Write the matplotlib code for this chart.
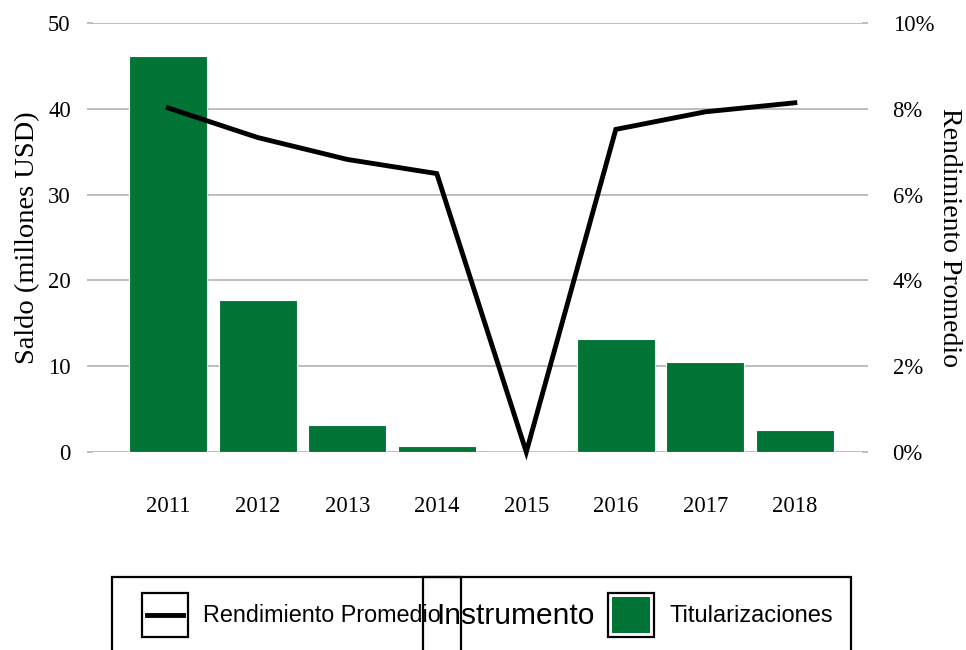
import matplotlib
matplotlib.use("Agg")
import matplotlib.pyplot as plt
from matplotlib.patches import Rectangle
from matplotlib.lines import Line2D
from matplotlib.ticker import FuncFormatter

# Data
years = ["2011", "2012", "2013", "2014", "2015", "2016", "2017", "2018"]
saldo = [46.1, 17.7, 3.1, 0.7, 0.0, 13.2, 10.5, 2.6]            # millones USD
rendimiento = [8.02, 7.33, 6.82, 6.49, 0.0, 7.52, 7.93, 8.14]    # %
left_ticks = [0, 10, 20, 30, 40, 50]
right_ticks = [0, 2, 4, 6, 8, 10]

GREEN = "#027436"
GRID = "#BEBEBE"
SERIF = "Liberation Serif"
SANS = "Liberation Sans"

W, H = 966, 650
fig = plt.figure(figsize=(W / 100, H / 100), dpi=100)


def px(x0, y0, x1, y1):
    """Pixel box (top-left origin) to figure fraction [l, b, w, h]."""
    return [x0 / W, 1 - y1 / H, (x1 - x0) / W, (y1 - y0) / H]


ax = fig.add_axes(px(93, 23, 862, 452))
xs = list(range(len(years)))

# Gridlines drawn by hand so they sit behind the bars.
for t in left_ticks:
    ax.axhline(t, color=GRID, lw=1.4, zorder=0)

ax.bar(xs, saldo, width=0.87, color=GREEN, edgecolor="white", linewidth=0.8, zorder=2)
ax.set_xlim(-0.84, 7.75)
ax.set_ylim(0, 50)
ax.set_yticks(left_ticks)
ax.set_xticks(xs)
ax.set_xticklabels(years)
for s in ax.spines.values():
    s.set_visible(False)
ax.tick_params(axis="both", length=0, labelsize=16.3)
ax.tick_params(axis="y", length=4, color=GRID, width=1.4)
ax.tick_params(axis="x", pad=32)
ax.tick_params(axis="y", pad=12)
for lab in ax.get_xticklabels() + ax.get_yticklabels():
    lab.set_fontfamily(SERIF)
ax.set_ylabel("Saldo (millones USD)", fontsize=20.5, family=SERIF, labelpad=6)

# Secondary axis for the yield line.
ax2 = ax.twinx()
ax2.set_ylim(0, 10)
ax2.set_yticks(right_ticks)
ax2.yaxis.set_major_formatter(FuncFormatter(lambda v, _: f"{v:.0f}%"))
ax2.plot(xs, rendimiento, color="black", lw=3.5, solid_joinstyle="miter",
         clip_on=False, zorder=3)
for s in ax2.spines.values():
    s.set_visible(False)
ax2.tick_params(axis="y", length=4, color=GRID, width=1.4, labelsize=16.3, pad=18)
for lab in ax2.get_yticklabels():
    lab.set_fontfamily(SERIF)
ax2.set_ylabel("Rendimiento Promedio", fontsize=20, family=SERIF,
               rotation=270, labelpad=20)

# Bottom legend, reproduced with its overlapping title.
tf = fig.transFigure
fig.add_artist(Rectangle((112 / W, -0.05), (851 - 112) / W, 1 - 577 / H + 0.05,
                         transform=tf, fill=False, ec="black", lw=1.6))
fig.add_artist(Rectangle((423 / W, -0.05), (461 - 423) / W, 1 - 577 / H + 0.05,
                         transform=tf, fill=False, ec="black", lw=1.6))
kb = px(142, 593, 188, 637)
fig.add_artist(Rectangle((kb[0], kb[1]), kb[2], kb[3], transform=tf,
                         fill=False, ec="black", lw=1.6))
fig.add_artist(Line2D([147 / W, 183 / W], [1 - 615 / H] * 2, transform=tf,
                      color="black", lw=3.5))
kg = px(608, 593, 654, 637)
fig.add_artist(Rectangle((kg[0], kg[1]), kg[2], kg[3], transform=tf,
                         fill=False, ec="black", lw=1.6))
kg2 = px(612, 597, 650, 633)
fig.add_artist(Rectangle((kg2[0], kg2[1]), kg2[2], kg2[3], transform=tf,
                         fc=GREEN, ec="none"))
fig.text(203 / W, 1 - 616 / H, "Rendimiento Promedio", family=SANS,
         fontsize=16.8, va="center", ha="left")
fig.text(436 / W, 1 - 616 / H, "Instrumento", family=SANS,
         fontsize=21.5, va="center", ha="left")
fig.text(669 / W, 1 - 616 / H, "Titularizaciones", family=SANS,
         fontsize=17, va="center", ha="left")

fig.savefig("out.png", dpi=100)
